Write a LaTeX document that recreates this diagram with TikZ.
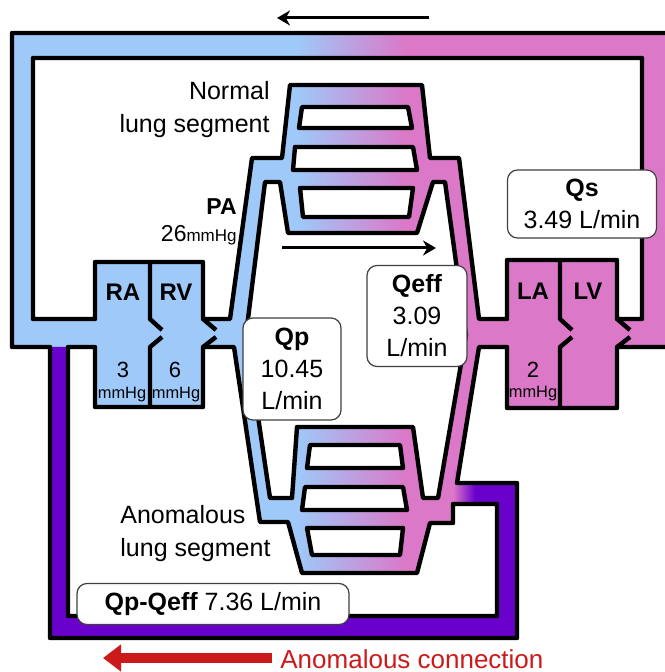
\documentclass[tikz,border=0pt]{standalone}
\usepackage{fontspec}
\setmainfont{Liberation Sans}
\usetikzlibrary{arrows.meta}
\definecolor{venblue}{HTML}{9EC9F8}
\definecolor{artpink}{HTML}{DB78C8}
\definecolor{shuntpurple}{HTML}{6A00CC}
\definecolor{shuntred}{HTML}{CC1A1A}
\tikzset{
  wall/.style={line width=2.2pt,line join=round},
  hole/.style={wall,fill=white},
  flowbox/.style={draw=black!75,line width=0.6pt,fill=white,rounded corners=5pt,
    align=center,inner sep=0pt,font=\fontsize{12.5}{16}\selectfont},
  txt/.style={inner sep=0pt,anchor=base,font=\fontsize{12.5}{16.5}\selectfont},
  chamber/.style={inner sep=0pt,anchor=base,font=\fontsize{12}{14}\bfseries},
  press/.style={inner sep=0pt,anchor=base,font=\fontsize{11}{13}\selectfont},
  unit/.style={inner sep=0pt,anchor=base,font=\fontsize{8.2}{9}\selectfont},
}
\begin{document}
\begin{tikzpicture}[x=0.5pt,y=-0.5pt]
  \useasboundingbox (0,0) rectangle (664,672);
  \begin{scope}
    \clip (12,33) -- (668,33) -- (668,347) -- (617,347) -- (617,408) -- (507,408) -- (507,347)
      -- (479,347) -- (457,483) -- (517,483) -- (517,638) -- (50,638) -- (50,347) -- (12,347) -- cycle;
    \fill[venblue] (0,0) rectangle (300,672);
    \shade[left color=venblue,right color=artpink] (298,0) rectangle (405,672);
    \fill[artpink] (404,0) rectangle (672,672);
    \fill[shuntpurple] (40,347) rectangle (69,650) (40,610) rectangle (530,650)
      (490,500) rectangle (530,650) (474,470) rectangle (530,510);
    \shade[left color=artpink,right color=shuntpurple] (453,470) rectangle (475,510);
  \end{scope}
  \draw[wall] (12,33) -- (668,33) -- (668,347) -- (617,347) -- (617,408) -- (507,408) -- (507,347)
    -- (479,347) -- (457,483) -- (517,483) -- (517,638) -- (50,638) -- (50,347) -- (12,347) -- cycle;
  \draw[hole] (33,58) -- (642,58) -- (642,319) -- (617,319) -- (617,260) -- (507,260) -- (507,319)
    -- (479,319) -- (459,158) -- (430,158) -- (422,85) -- (290,85) -- (282,158) -- (252,158)
    -- (230,319) -- (203,319) -- (203,262) -- (95,262) -- (95,319) -- (33,319) -- cycle;
  \draw[hole] (68,347) -- (95,347) -- (95,407) -- (203,407) -- (203,347) -- (234,347) -- (260,522)
    -- (288,522) -- (302,573) -- (417,573) -- (430,523) -- (453,523) -- (453,504) -- (497,504)
    -- (497,616) -- (68,616) -- cycle;
  \draw[hole] (288,233) -- (417,233) -- (433,182) -- (445,182) -- (466,335) -- (438,498) -- (423,498)
    -- (413,427) -- (297,427) -- (292,498) -- (270,498) -- (246,335) -- (265,182) -- (280,182) -- cycle;
  \draw[hole] (302,107) -- (408,107) -- (412,128) -- (299,128) -- cycle;
  \draw[hole] (295,147) -- (413,147) -- (417,170) -- (293,170) -- cycle;
  \draw[hole] (300,188) -- (413,188) -- (409,217) -- (303,217) -- cycle;
  \draw[hole] (310,445) -- (400,445) -- (403,468) -- (307,468) -- cycle;
  \draw[hole] (305,487) -- (403,487) -- (407,510) -- (302,510) -- cycle;
  \draw[hole] (307,528) -- (403,528) -- (400,555) -- (312,555) -- cycle;
  \draw[wall] (150,262) -- (150,319) -- (162,330) (162,337) -- (150,347) -- (150,407);
  \draw[wall] (203,319) -- (216,330) (216,337) -- (203,347);
  \draw[wall] (560,260) -- (560,319) -- (572,330) (572,337) -- (560,347) -- (560,408);
  \draw[wall] (617,319) -- (630,330) (630,337) -- (617,347);

  \node[txt,anchor=base east,align=right] (normal) at (270,133) {Normal\\lung segment};
  \node[txt,anchor=base west,align=left] (anomal) at (120,556) {Anomalous\\lung segment};
  \node[txt,anchor=base east,font=\fontsize{11.5}{13}\bfseries] (pa) at (237,215) {PA};
  \node[txt,anchor=base east] (pap) at (237,242) {\fontsize{11.5}{13}\selectfont 26\fontsize{8.5}{10}\selectfont mmHg};
  \node[chamber] (ra) at (123,301) {RA};
  \node[chamber] (rv) at (176,301) {RV};
  \node[chamber] (la) at (533,300) {LA};
  \node[chamber] (lv) at (588,300) {LV};
  \node[press] (rapress) at (123,378) {3};
  \node[press] (rvpress) at (175,378) {6};
  \node[press] (lapress) at (533,378) {2};
  \node[unit] (raunit) at (122,398) {mmHg};
  \node[unit] (rvunit) at (176,398) {mmHg};
  \node[unit] (launit) at (533,397) {mmHg};

  \node[flowbox,minimum width=49pt,minimum height=51pt] (qp) at (292,369) {\textbf{Qp}\\10.45\\L/min};
  \node[flowbox,minimum width=50pt,minimum height=50.5pt] (qeff) at (417,316) {\textbf{Qeff}\\3.09\\L/min};
  \node[flowbox,minimum width=74.5pt,minimum height=34pt] (qs) at (582,204) {\textbf{Qs}\\3.49 L/min};
  \node[flowbox,minimum width=136pt,minimum height=20.5pt] (qpqeff) at (213,604) {\textbf{Qp-Qeff} 7.36 L/min};

  \coordinate (topfrom) at (429,18);
  \coordinate (topto) at (277,18);
  \coordinate (midfrom) at (282,248);
  \coordinate (midto) at (436,248);
  \coordinate (redfrom) at (272,658);
  \coordinate (redto) at (103,658);
  \draw[line width=1.5pt,-{Stealth[length=6.5pt,width=7.5pt]}] (topfrom) -- (topto);
  \draw[line width=1.5pt,-{Stealth[length=6.5pt,width=7.5pt]}] (midfrom) -- (midto);
  \draw[shuntred,line width=5pt,-{Triangle[length=9pt,width=13pt]}] (redfrom) -- (redto);
  \node[txt,anchor=base west,text=shuntred,font=\fontsize{13}{15}\selectfont] (anconn) at (280,668) {Anomalous connection};
\end{tikzpicture}
\end{document}
